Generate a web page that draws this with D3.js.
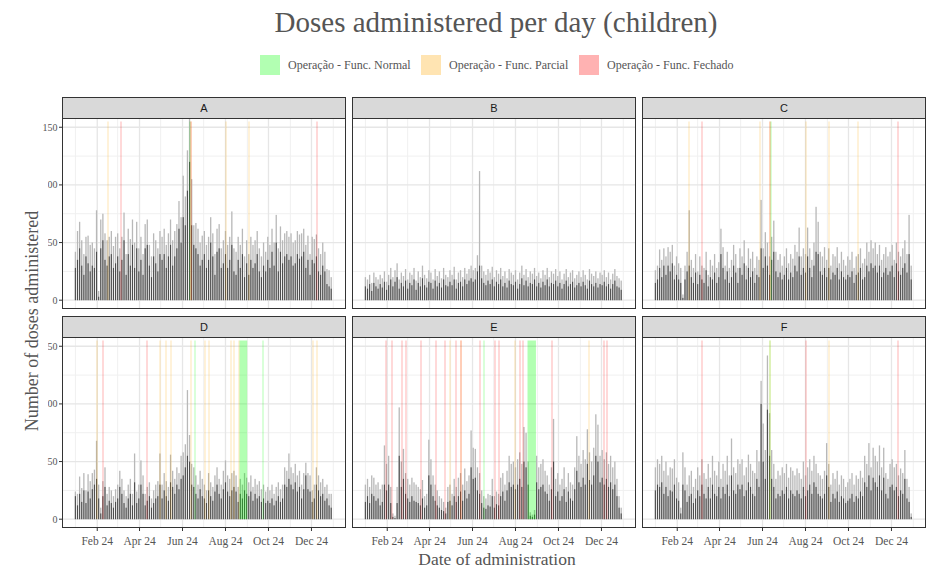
<!DOCTYPE html>
<html>
<head>
<meta charset="utf-8">
<script src="https://cdn.jsdelivr.net/npm/d3@7"></script>
<style>
  body { margin: 0; background: #fff; }
</style>
</head>
<body>
<svg id="chart" width="933" height="570"></svg>
<script>
"use strict";

// one value every 3 days, starting 1 Jan 2024 (122 values per series)
const panelNames = ["A", "B", "C", "D", "E", "F"];
const stepDays = 3;

// light = tallest bar of the day, dark = overlapping part
const lightA = [42,60,68,52,40,55,56,48,50,45,78, 8,70,75,58,52,55,60,47,55, 58,45,55,76,40,62,53,70,50,68,45, 55,40,66,70,48,38,58,52,45,60, 55,62,48,58,70,52,60,66,86,72, 108,90,130,158,105,65,67,62,50,56, 60,48,55,72,58,40,62,66,45,52, 60,48,55,77,45,42,55,48,62,38,52, 40,55,48,52,60,45,38,50,42,55, 48,62,50,74,45,64,52,58,60,55, 58,50,52,60,57,58,62,48,56,40, 55,53,57,45,40,50,42,27,26,20];
const darkA = [28,35,45,30,22,38,32,25,30,28,42, 3,45,52,35,30,38,40,28,32, 38,25,35,52,22,40,30,48,28,45,25, 35,22,45,48,30,20,38,32,25,40, 35,40,28,38,48,30,38,45,62,50, 72,65,95,120,65,48,45,40,30,35, 40,28,35,50,38,22,42,45,28,32, 40,28,35,48,25,22,35,28,40,20,32, 22,35,28,32,40,25,20,30,25,35, 28,42,30,50,25,42,32,38,40,35, 38,30,32,40,36,38,42,28,35,22, 35,32,38,25,22,30,25,14,12,10];

const lightB = [20,18,22,15,24,20,18,22,19,25,16, 22,28,20,26,32,18,24,21,27, 18,24,22,28,17,25,20,30,22,19,26, 24,18,27,21,25,19,28,22,20,26, 22,29,18,24,26,20,28,23,27,30, 26,28,39,112,30,25,22,27,24,29, 20,26,23,28,21,25,19,27,24,22, 26,18,24,30,22,27,20,25,23,28,21, 24,19,26,22,28,20,25,23,27,21, 25,18,23,27,20,24,26,19,22,25, 20,26,22,18,27,23,21,25,19,24, 22,26,20,24,18,23,27,21,19,17];
const darkB = [12,10,14,8,15,12,10,14,11,16,9, 13,18,12,16,20,10,15,12,17, 10,15,13,18,9,15,12,19,13,11,16, 15,10,17,12,15,11,18,13,12,16, 13,18,10,15,16,12,18,14,17,19, 16,18,25,30,19,15,13,17,14,18, 12,16,14,18,12,15,11,17,14,13, 16,10,14,19,13,17,12,15,14,18,12, 15,11,16,13,18,12,15,14,17,12, 15,10,14,17,12,14,16,11,13,15, 12,16,13,10,17,14,12,15,11,14, 13,16,12,14,10,14,17,12,11,9];

const lightC = [26,30,44,35,45,38,46,42,48,30,38, 32,28,5,30,42,78,35,28,40, 25,38,30,28,42,22,35,30,40,28,33, 62,46,30,42,28,35,48,40,28,45, 38,52,30,45,36,42,28,38,35,87, 45,59,50,38,55,69,42,35,40,30, 38,45,32,40,36,48,42,63,38,45, 40,63,45,35,50,81,68,42,38,46,35, 45,30,40,38,46,32,42,35,30,38, 35,42,28,38,40,45,32,36,50,42, 52,45,50,40,48,35,40,46,38,42, 48,35,50,42,38,45,52,40,74,30];
const darkC = [15,18,28,20,30,22,30,25,32,18,22, 18,15,2,18,25,30,20,15,24, 14,22,18,15,26,12,20,18,24,15,20, 40,28,18,25,15,20,30,24,15,28, 22,32,18,28,20,25,15,22,20,45, 28,38,30,22,35,42,25,20,24,18, 22,28,18,24,20,30,25,38,22,28, 24,38,28,20,30,42,40,25,22,28,20, 28,18,24,22,28,18,25,20,18,22, 20,25,15,22,24,28,18,20,30,25, 32,28,30,24,30,20,24,28,22,25, 30,20,32,25,22,28,32,24,40,18];

const lightD = [24,22,37,27,40,25,39,33,40,43,68, 30,10,33,45,22,28,25,20,26, 30,42,35,25,20,30,35,22,57,24,30, 51,38,22,28,32,18,25,30,33,57, 30,40,33,28,56,42,35,45,40,55, 58,65,112,73,48,45,38,30,42,35, 30,25,40,32,28,38,45,35,30,42, 51,38,35,40,42,38,28,35,30,40,36, 32,38,28,35,30,33,26,30,24,28, 25,30,22,28,32,26,30,45,42,57, 45,40,48,38,42,30,40,49,40,38, 25,30,45,38,32,35,28,30,22,22];
const darkD = [20,12,22,15,25,14,24,18,26,30,35, 18,5,20,28,12,16,14,10,15, 18,28,22,14,10,18,22,12,32,14,18, 30,22,12,16,20,10,14,18,20,30, 18,25,20,16,32,28,22,30,26,35, 38,45,55,50,30,28,22,18,26,20, 18,14,25,20,16,24,30,22,18,26, 32,24,20,25,28,24,15,22,18,25,22, 20,24,16,22,18,20,15,18,14,16, 14,18,12,16,20,15,18,30,28,35, 30,26,32,24,28,18,26,38,26,24, 15,18,30,25,20,22,16,18,12,10];

const lightE = [30,35,28,38,36,30,32,26,30,64,48, 55,28,5,3,28,97,50,61,40, 35,30,36,32,30,28,26,34,20,22,69, 52,38,30,25,20,18,15,10,28,30, 22,35,28,36,40,30,44,33,38,77, 62,61,45,40,25,20,18,22,21,35, 20,24,22,36,40,30,42,55,48,50, 45,52,58,48,80,75,50,6,4,8,55, 45,48,52,42,38,30,45,87,35,40, 30,35,45,28,40,32,30,45,72,55, 48,60,52,78,58,50,62,91,82,55, 60,52,58,48,55,45,50,35,20,10];
const darkE = [15,20,14,22,20,16,18,12,15,30,25, 30,14,2,1,14,55,28,35,22, 18,15,20,16,15,14,12,18,10,12,38, 30,20,16,12,10,8,7,5,15,16, 12,20,15,20,24,16,25,18,22,45, 35,36,25,22,14,10,9,12,11,20, 10,13,12,20,24,16,25,32,28,30, 26,30,35,28,50,45,30,3,2,4,32, 26,28,30,24,22,16,26,50,20,24, 16,20,26,15,24,18,16,26,42,32, 28,36,30,48,34,30,38,55,50,32, 36,30,35,28,32,26,30,20,10,5];

const lightF = [45,52,48,55,42,50,38,45,44,52,36, 32,10,58,45,30,38,42,28,35, 45,38,52,40,35,48,36,55,42,38,50, 35,48,42,55,38,70,45,40,52,48, 52,38,45,56,48,42,40,60,50,120, 83,60,142,92,60,48,35,42,38,45, 40,48,36,45,42,38,44,40,35,50, 38,45,52,42,55,48,40,38,35,42,66, 48,30,40,35,42,30,38,35,28,32, 35,40,30,38,35,42,36,55,48,66, 45,62,55,50,64,45,62,40,35,48, 52,45,48,38,44,40,60,35,28,5];
const darkF = [25,30,28,32,22,28,20,25,24,30,18, 16,5,30,25,15,20,22,14,18, 25,20,30,22,18,28,18,30,22,20,28, 18,28,22,30,20,38,25,22,30,26, 30,20,25,32,28,22,20,35,28,100, 50,35,95,55,35,28,18,22,20,25, 22,28,18,25,22,20,25,22,18,28, 20,25,30,22,32,28,22,20,18,22,38, 28,15,22,18,24,15,20,18,14,16, 18,22,15,20,18,24,20,32,28,38, 25,36,32,28,38,25,36,22,18,28, 30,25,28,20,25,22,35,18,15,2];

// operation status days: [first day, last day, status] (day 0 = 1 Jan 2024)
const eventsA = [[46,46,"P"],[65,65,"F"],[163,163,"N"],[164,164,"P"],[164,164,"F"],[213,213,"P"],[246,246,"P"],[343,343,"F"]];
const eventsB = [];
const eventsC = [[47,47,"P"],[66,66,"F"],[148,148,"P"],[163,163,"F"],[163,163,"P"],[164,164,"N"],[214,214,"P"],[246,246,"P"],[288,288,"P"],[344,344,"F"]];
const eventsD = [[30,30,"P"],[39,39,"F"],[101,101,"F"],[120,120,"P"],[129,129,"P"],[136,136,"P"],[164,164,"P"],[170,170,"N"],[183,183,"P"],[190,190,"P"],[220,220,"P"],[225,225,"P"],[232,232,"P"],[233,243,"N"],[266,266,"N"],[337,337,"P"],[342,342,"P"]];
const eventsE = [[29,29,"F"],[37,37,"F"],[52,52,"F"],[57,57,"F"],[79,79,"F"],[100,100,"F"],[113,113,"F"],[120,120,"P"],[129,129,"F"],[135,135,"P"],[135,135,"F"],[162,162,"F"],[168,168,"N"],[183,183,"F"],[189,189,"F"],[212,212,"P"],[219,219,"F"],[224,224,"F"],[231,242,"N"],[265,265,"F"],[317,317,"P"],[338,338,"F"],[343,343,"F"]];
const eventsF = [[66,66,"F"],[163,163,"N"],[163,163,"P"],[214,214,"F"],[246,246,"P"],[344,344,"F"]];

const statusKeys = ["N", "P", "F"];
const statusLabels = ["Operação - Func. Normal", "Operação - Func. Parcial", "Operação - Func. Fechado"];
const statusColors = ["#00ff00", "#ffa500", "#ff0000"];

const xTickDates = ["2024-02-01", "2024-04-01", "2024-06-01", "2024-08-01", "2024-10-01", "2024-12-01"];
const xTickLabels = ["Feb 24", "Apr 24", "Jun 24", "Aug 24", "Oct 24", "Dec 24"];
const xMinorDates = ["2024-01-01", "2024-03-01", "2024-05-01", "2024-07-01", "2024-09-01", "2024-11-01", "2025-01-01"];
const yTicks = [0, 50, 100, 150];
const yMinor = [25, 75, 125];

const lights = [lightA, lightB, lightC, lightD, lightE, lightF];
const darks = [darkA, darkB, darkC, darkD, darkE, darkF];
const events = [eventsA, eventsB, eventsC, eventsD, eventsE, eventsF];

const serif = "'Liberation Serif', 'Times New Roman', serif";
const sans = "'Liberation Sans', Arial, sans-serif";
const dayMs = 864e5;
const start = Date.UTC(2024, 0, 1);

const svg = d3.select("#chart");

// layout
const panelW = 283, panelH = 190, stripH = 21;
const colX = [62.5, 352.5, 642.5];
const rowY = [118.5, 337.5];

const x = d3.scaleUtc()
  .domain([new Date(start - 18.3 * dayMs), new Date(start + 383.3 * dayMs)])
  .range([0, panelW]);
const y = d3.scaleLinear().domain([-7.2, 157.6]).range([panelH, 0]);

const colorOf = d3.scaleOrdinal().domain(statusKeys).range(statusColors);

// title
svg.append("text")
  .attr("x", 496).attr("y", 32)
  .attr("text-anchor", "middle")
  .style("font-family", serif).style("font-size", "29px").style("fill", "#555")
  .text("Doses administered per day (children)");

// legend
const legendX = [260, 421, 579];
statusKeys.forEach(function (k, i) {
  svg.append("rect")
    .attr("x", legendX[i]).attr("y", 55).attr("width", 20).attr("height", 20)
    .attr("fill", statusColors[i]).attr("fill-opacity", 0.3);
  svg.append("text")
    .attr("x", legendX[i] + 28).attr("y", 69)
    .style("font-family", serif).style("font-size", "12px").style("fill", "#555")
    .text(statusLabels[i]);
});

panelNames.forEach(function (name, p) {
  const col = p % 3, row = Math.floor(p / 3);
  const g = svg.append("g").attr("transform", "translate(" + colX[col] + "," + rowY[row] + ")");

  // strip
  g.append("rect")
    .attr("x", 0).attr("y", -stripH).attr("width", panelW).attr("height", stripH)
    .attr("fill", "#d9d9d9").attr("stroke", "#333").attr("stroke-width", 1);
  g.append("text")
    .attr("x", panelW / 2).attr("y", -stripH / 2 + 4)
    .attr("text-anchor", "middle")
    .style("font-family", sans).style("font-size", "11px").style("fill", "#1a1a1a")
    .text(name);

  // grid
  g.selectAll(".vminor").data(xMinorDates).enter().append("line")
    .attr("x1", d => x(new Date(d))).attr("x2", d => x(new Date(d)))
    .attr("y1", 0).attr("y2", panelH)
    .attr("stroke", "#f0f0f0").attr("stroke-width", 1);
  g.selectAll(".hminor").data(yMinor).enter().append("line")
    .attr("x1", 0).attr("x2", panelW)
    .attr("y1", d => y(d)).attr("y2", d => y(d))
    .attr("stroke", "#f0f0f0").attr("stroke-width", 1);
  g.selectAll(".vmajor").data(xTickDates).enter().append("line")
    .attr("x1", d => x(new Date(d))).attr("x2", d => x(new Date(d)))
    .attr("y1", 0).attr("y2", panelH)
    .attr("stroke", "#e6e6e6").attr("stroke-width", 1.3);
  g.selectAll(".hmajor").data(yTicks).enter().append("line")
    .attr("x1", 0).attr("x2", panelW)
    .attr("y1", d => y(d)).attr("y2", d => y(d))
    .attr("stroke", "#e6e6e6").attr("stroke-width", 1.3);

  const clipId = "clip" + name;
  g.append("clipPath").attr("id", clipId)
    .append("rect").attr("width", panelW).attr("height", panelH);
  const plot = g.append("g").attr("clip-path", "url(#" + clipId + ")");

  const rows = lights[p].map(function (v, i) {
    return { date: new Date(start + i * stepDays * dayMs), light: v, dark: darks[p][i] };
  });

  plot.selectAll(".light").data(rows).enter().append("rect")
    .attr("x", d => x(d.date) - 0.65).attr("width", 1.3)
    .attr("y", d => y(d.light)).attr("height", d => y(0) - y(d.light))
    .attr("fill", "#b8b8b8");
  plot.selectAll(".dark").data(rows).enter().append("rect")
    .attr("x", d => x(d.date) - 0.55).attr("width", 1.1)
    .attr("y", d => y(d.dark)).attr("height", d => y(0) - y(d.dark))
    .attr("fill", "#4d4d4d");

  // operation status rectangles on top
  plot.selectAll(".ev").data(events[p]).enter().append("rect")
    .attr("x", d => Math.round(x(new Date(start + (d[0] - 0.5) * dayMs))))
    .attr("width", d => Math.max(1, x(new Date(start + (d[1] + 0.5) * dayMs)) - x(new Date(start + (d[0] - 0.5) * dayMs))))
    .attr("y", y(155)).attr("height", y(0) - y(155))
    .attr("fill", d => colorOf(d[2])).attr("fill-opacity", 0.3);

  // border
  g.append("rect")
    .attr("width", panelW).attr("height", panelH)
    .attr("fill", "none").attr("stroke", "#333").attr("stroke-width", 1);

  if (col === 0) {
    g.selectAll(".yt").data(yTicks).enter().append("line")
      .attr("x1", -3.5).attr("x2", 0)
      .attr("y1", d => y(d)).attr("y2", d => y(d))
      .attr("stroke", "#333");
    g.selectAll(".yl").data(yTicks).enter().append("text")
      .attr("x", -5).attr("y", d => y(d)).attr("dy", "0.35em")
      .attr("text-anchor", "end")
      .style("font-family", serif).style("font-size", "10px").style("fill", "#555")
      .text(d => d);
  }
  if (row === 1) {
    g.selectAll(".xt").data(xTickDates).enter().append("line")
      .attr("x1", d => x(new Date(d))).attr("x2", d => x(new Date(d)))
      .attr("y1", panelH).attr("y2", panelH + 3.5)
      .attr("stroke", "#333");
    g.selectAll(".xl").data(xTickDates).enter().append("text")
      .attr("x", d => x(new Date(d))).attr("y", panelH + 17)
      .attr("text-anchor", "middle")
      .style("font-family", serif).style("font-size", "11.5px").style("fill", "#555")
      .text((d, i) => xTickLabels[i]);
  }
});

// axis titles (the y title box hides part of the tick labels, as in the original)
svg.append("rect")
  .attr("x", 14).attr("y", 150).attr("width", 34).attr("height", 305)
  .attr("fill", "#fff");
svg.append("text")
  .attr("transform", "translate(38,321) rotate(-90)")
  .attr("text-anchor", "middle")
  .style("font-family", serif).style("font-size", "18px").style("fill", "#555")
  .text("Number of doses administered");
svg.append("text")
  .attr("x", 497).attr("y", 565)
  .attr("text-anchor", "middle")
  .style("font-family", serif).style("font-size", "17.5px").style("fill", "#555")
  .text("Date of administration");
</script>
</body>
</html>
